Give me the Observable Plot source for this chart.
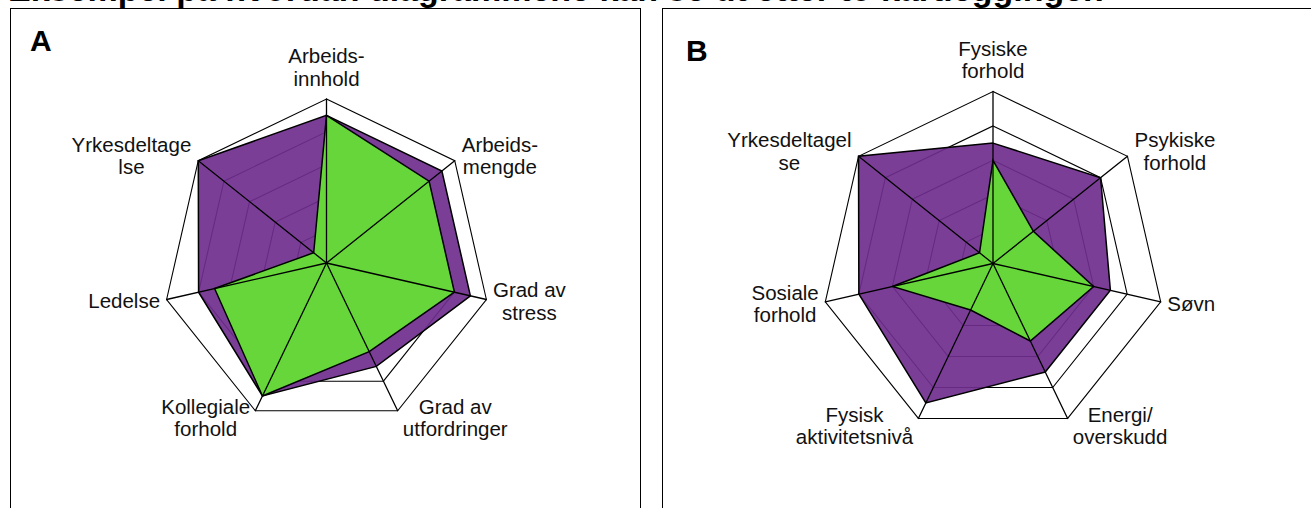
<!DOCTYPE html>
<html><head><meta charset="utf-8">
<script src="https://cdn.jsdelivr.net/npm/d3@7"></script>
<script src="https://cdn.jsdelivr.net/npm/@observablehq/plot@0.6"></script>
<style>
html,body{margin:0;padding:0;background:#fff;overflow:hidden}
#page{position:relative;width:1311px;height:508px;overflow:hidden;font-family:"Liberation Sans",Arial,sans-serif;background:#fff}
#title{position:absolute;left:8px;top:-27px;font-size:34px;line-height:33px;font-weight:bold;white-space:nowrap;color:#000}
.frame{position:absolute;border:1.5px solid #000;box-sizing:border-box;pointer-events:none}
.letter{position:absolute;font-size:30px;line-height:30px;font-weight:bold;color:#000}
.panel{position:absolute;top:0}
</style></head><body>
<div id="page">
 <div id="title">Eksempel på hvordan diagrammene kan se ut etter to kartlegginger.</div>
 <div id="panelA" class="panel" style="left:0"></div>
 <div id="panelB" class="panel" style="left:655px"></div>
 <div class="frame" style="left:10px;top:8px;width:631px;height:540px"></div>
 <div class="frame" style="left:662px;top:8px;width:700px;height:540px"></div>
 <div class="letter" style="left:30px;top:26px">A</div>
 <div class="letter" style="left:686px;top:36px">B</div>
</div>
<script>
// ---- data ----
const categoriesA = ["Arbeids-\ninnhold", "Arbeids-\nmengde", "Grad av\nstress", "Grad av\nutfordringer", "Kollegiale\nforhold", "Ledelse", "Yrkesdeltage\nlse"];
const firstA  = [4.5, 4.5, 4.5, 3.5, 4.5, 4.0, 5.0];
const secondA = [4.5, 4.0, 4.0, 3.0, 4.5, 3.5, 0.5];

const categoriesB = ["Fysiske\nforhold", "Psykiske\nforhold", "Søvn", "Energi/\noverskudd", "Fysisk\naktivitetsnivå", "Sosiale\nforhold", "Yrkesdeltagel\nse"];
const firstB  = [3.5, 4.0, 3.5, 3.5, 4.5, 4.0, 5.0];
const secondB = [3.0, 1.5, 3.0, 2.5, 1.5, 3.0, 0.5];

const gridLevels = [1, 2, 3, 4, 5];
const maxValue = 5;

// ---- styles ----
const FS = 20.5;
const LH = 1.1;
const purple = "#702E8E";
const green = "#66D63A";

function radar({cats, s1, s2, width, height, cx, cy, R}) {
  const n = cats.length;
  const ang = i => 2 * Math.PI * i / n;
  const px = R / maxValue;
  const pt = (i, v) => ({x: v * Math.sin(ang(i)), y: v * Math.cos(ang(i))});
  const rings = gridLevels.flatMap(l => d3.range(n).map(i => ({level: l, ...pt(i, l)})));
  const poly = vals => vals.map((v, i) => pt(i, v));
  const spokes = d3.range(n).flatMap(i => [{i, x: 0, y: 0}, {i, ...pt(i, maxValue)}]);
  const ctx = document.createElement("canvas").getContext("2d");
  ctx.font = `${FS}px "Liberation Sans", Arial, sans-serif`;
  const lineH = FS * LH;
  const labels = cats.map((t, i) => {
    const a = ang(i), s = Math.sin(a), c = Math.cos(a);
    const lines = t.split("\n");
    const w = d3.max(lines, l => ctx.measureText(l).width);
    let ox, oy;
    if (Math.abs(s) < 0.05) { ox = 0; oy = -(13 + ((lines.length - 1) * lineH + 15) / 2); }
    else { const g = 7 - 2 * Math.max(0, -c); ox = Math.sign(s) * (g + w / 2); oy = -c * 8; }
    return {text: t, x: maxValue * s + ox / px, y: maxValue * c - oy / px};
  });
  return Plot.plot({
    width, height, margin: 0,
    x: {domain: [-maxValue, maxValue], range: [cx - R, cx + R], axis: null},
    y: {domain: [-maxValue, maxValue], range: [cy + R, cy - R], axis: null},
    style: {background: "transparent", fontFamily: '"Liberation Sans", Arial, sans-serif'},
    marks: [
      Plot.line(rings, {x: "x", y: "y", z: "level", curve: "linear-closed", stroke: "#000", strokeWidth: 1.1, strokeLinejoin: "miter", strokeMiterlimit: 10}),
      Plot.line(poly(s1), {x: "x", y: "y", curve: "linear-closed", fill: purple, fillOpacity: 0.92, stroke: "#000", strokeWidth: 1.5, strokeLinejoin: "miter", strokeMiterlimit: 10}),
      Plot.line(poly(s2), {x: "x", y: "y", curve: "linear-closed", fill: green, stroke: "#000", strokeWidth: 1.5, strokeLinejoin: "miter", strokeMiterlimit: 10}),
      Plot.line(spokes, {x: "x", y: "y", z: "i", stroke: "#000", strokeWidth: 1.3}),
      Plot.text(labels, {x: "x", y: "y", text: "text", fontSize: FS, lineHeight: LH, textAnchor: "middle", lineAnchor: "middle", fill: "#111"})
    ]
  });
}

document.getElementById("panelA").append(radar({cats: categoriesA, s1: firstA, s2: secondA, width: 655, height: 508, cx: 326, cy: 262.5, R: 164}));
document.getElementById("panelB").append(radar({cats: categoriesB, s1: firstB, s2: secondB, width: 656, height: 508, cx: 337.5, cy: 263, R: 172}));
</script>
</body></html>
